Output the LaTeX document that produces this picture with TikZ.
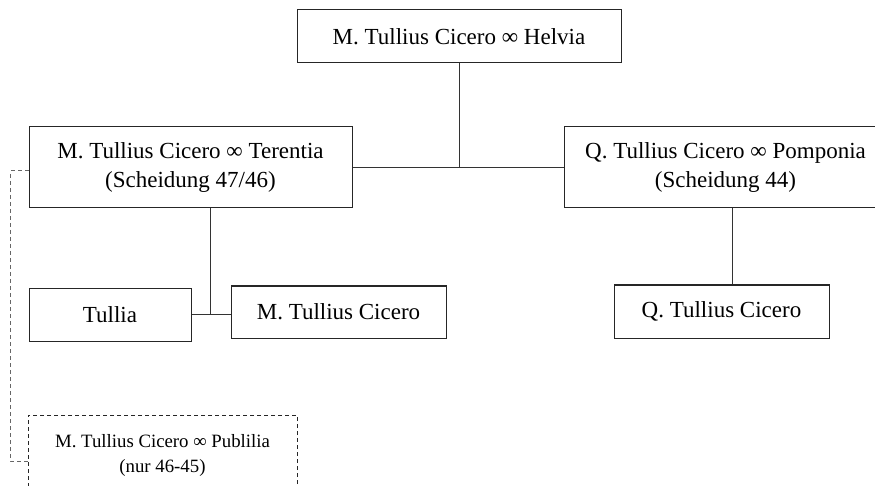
\documentclass[tikz,border=0pt]{standalone}
\usepackage{fontspec}
\setmainfont{Liberation Serif}

\begin{document}
\begin{tikzpicture}[x=1pt,y=-1pt,
  box/.style={draw=black!85,line width=1pt,align=center,inner sep=0pt,font=\fontsize{23}{29}\selectfont},
  dashbox/.style={box,dash pattern=on 4pt off 3pt,font=\fontsize{18.8}{25}\selectfont},
  link/.style={draw=black!80,line width=1pt}]
  \clip (0,0) rectangle (875,486);
  % parents
  \node[box,minimum width=324pt,minimum height=53pt] (helvia) at (459,36.5) {M. Tullius Cicero ∞ Helvia};
  \node[box,minimum width=323pt,minimum height=81pt] (terentia) at (190.5,167.5) {M. Tullius Cicero ∞ Terentia\\(Scheidung 47/46)};
  \node[box,minimum width=323pt,minimum height=81pt] (pomponia) at (725.5,167.5) {Q. Tullius Cicero ∞ Pomponia\\(Scheidung 44)};
  % children
  \node[box,minimum width=162pt,minimum height=53pt] (tullia) at (110,314.5) {Tullia};
  \node[box,minimum width=215pt,minimum height=52pt] (marcus) at (338.5,312) {M. Tullius Cicero};
  \node[box,minimum width=215pt,minimum height=53pt] (quintus) at (721.5,311.5) {Q. Tullius Cicero};
  % second marriage
  \node[dashbox,minimum width=269pt,minimum height=80pt] (publilia) at (162.5,455) {M. Tullius Cicero ∞ Publilia\\(nur 46-45)};
  \draw[link] (terentia.east) -- (pomponia.west);
  \draw[link] (helvia.south) -- (helvia.south |- terentia.east);
  \draw[link] (tullia.east) -- (marcus.west |- tullia.east);
  \draw[link] ([xshift=19.5pt]terentia.south) -- ([xshift=19.5pt]terentia.south |- tullia.east);
  \draw[link] ([xshift=10.5pt]quintus.north) -- ([xshift=10.5pt]quintus.north |- pomponia.south);
  \draw[link,draw=black!60,dash pattern=on 4pt off 3pt] ([yshift=-3.5pt]terentia.west) -- ++(-18,0) |- ([yshift=-6pt]publilia.west);
\end{tikzpicture}
\end{document}
